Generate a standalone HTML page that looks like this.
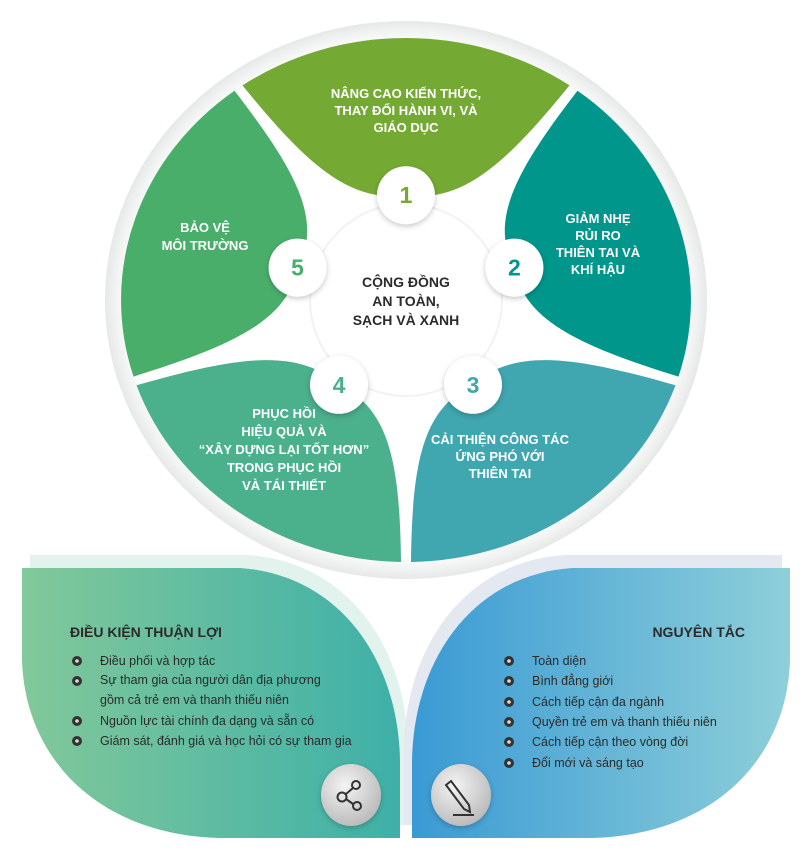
<!DOCTYPE html>
<html><head><meta charset="utf-8"><style>
html,body{margin:0;padding:0;background:#fff;width:812px;height:860px;overflow:hidden}
svg{display:block}
text{font-family:"Liberation Sans",sans-serif}
</style></head><body>
<svg id="s" width="812" height="860" viewBox="0 0 812 860" xmlns="http://www.w3.org/2000/svg">
<defs>
<radialGradient id="rim" cx="50%" cy="50%" r="50%">
<stop offset="92%" stop-color="#ffffff"/><stop offset="100%" stop-color="#e8eaea"/></radialGradient>
<linearGradient id="lg" x1="0" x2="1" y1="0" y2="0"><stop offset="0" stop-color="#82c89a"/><stop offset="1" stop-color="#3eb0a8"/></linearGradient>
<linearGradient id="rg" x1="0" x2="1" y1="0" y2="0"><stop offset="0" stop-color="#3a9ad4"/><stop offset="1" stop-color="#8ecfd9"/></linearGradient>
<radialGradient id="btn" cx="40%" cy="35%" r="70%"><stop offset="0" stop-color="#f4f4f4"/><stop offset="1" stop-color="#b8b8b8"/></radialGradient>
<filter id="sh" x="-30%" y="-30%" width="160%" height="160%"><feDropShadow dx="0" dy="2" stdDeviation="3" flood-color="#000" flood-opacity="0.22"/></filter>
</defs>
<ellipse cx="406" cy="300" rx="300" ry="278" fill="url(#rim)" stroke="#e8eaea" stroke-width="2"/>
<g id="petals"></g>
<circle cx="406" cy="300" r="96" fill="#fff" stroke="#f2f2f2" stroke-width="2"/>
<g id="bubbles"></g>

<g fill="#fff" font-weight="bold" font-size="13" text-anchor="middle">
<text x="406" y="98">NÂNG CAO KIẾN THỨC,</text>
<text x="406" y="115">THAY ĐỔI HÀNH VI, VÀ</text>
<text x="406" y="132">GIÁO DỤC</text>
<text x="598" y="223">GIẢM NHẸ</text>
<text x="598" y="240">RỦI RO</text>
<text x="598" y="257">THIÊN TAI VÀ</text>
<text x="598" y="274">KHÍ HẬU</text>
<text x="205" y="232">BẢO VỆ</text>
<text x="205" y="250">MÔI TRƯỜNG</text>
<text x="284" y="418">PHỤC HỒI</text>
<text x="284" y="436">HIỆU QUẢ VÀ</text>
<text x="284" y="454">“XÂY DỰNG LẠI TỐT HƠN”</text>
<text x="284" y="472">TRONG PHỤC HỒI</text>
<text x="284" y="490">VÀ TÁI THIẾT</text>
<text x="500" y="444">CẢI THIỆN CÔNG TÁC</text>
<text x="500" y="461">ỨNG PHÓ VỚI</text>
<text x="500" y="478">THIÊN TAI</text>
</g>
<g fill="#2b2b2b" font-weight="bold" font-size="14" text-anchor="middle">
<text x="406" y="287">CỘNG ĐỒNG</text>
<text x="406" y="306">AN TOÀN,</text>
<text x="406" y="325">SẠCH VÀ XANH</text>
</g>

<!-- bottom leaves -->
<path transform="translate(8,-13)" d="M22 568 L240 568 C340 575 398 660 400 760 L400 838 L220 838 C100 835 25 760 22 660 Z" fill="#e2f2ec"/>
<path transform="translate(-8,-13)" d="M790 568 L572 568 C472 575 414 660 412 760 L412 838 L592 838 C712 835 787 760 790 660 Z" fill="#e3e8f1"/>
<path d="M22 568 L240 568 C340 575 398 660 400 760 L400 838 L220 838 C100 835 25 760 22 660 Z" fill="url(#lg)"/>
<path d="M790 568 L572 568 C472 575 414 660 412 760 L412 838 L592 838 C712 835 787 760 790 660 Z" fill="url(#rg)"/>

<g font-size="12.5" fill="#2b2b2b">
<text x="70" y="637" font-size="14" font-weight="bold">ĐIỀU KIỆN THUẬN LỢI</text>
<text x="100" y="665">Điều phối và hợp tác</text>
<text x="100" y="684">Sự tham gia của người dân địa phương</text>
<text x="100" y="704">gồm cả trẻ em và thanh thiếu niên</text>
<text x="100" y="725">Nguồn lực tài chính đa dạng và sẵn có</text>
<text x="100" y="745">Giám sát, đánh giá và học hỏi có sự tham gia</text>
<text x="745" y="637" font-size="14" font-weight="bold" text-anchor="end">NGUYÊN TẮC</text>
<text x="532" y="665">Toàn diện</text>
<text x="532" y="685">Bình đẳng giới</text>
<text x="532" y="706">Cách tiếp cận đa ngành</text>
<text x="532" y="726">Quyền trẻ em và thanh thiếu niên</text>
<text x="532" y="746">Cách tiếp cận theo vòng đời</text>
<text x="532" y="767">Đổi mới và sáng tạo</text>
</g>
<g fill="#333" stroke="none">
<circle cx="77" cy="661" r="5"/><circle cx="77" cy="681" r="5"/><circle cx="77" cy="721" r="5"/><circle cx="77" cy="741" r="5"/>
<circle cx="509" cy="661" r="5"/><circle cx="509" cy="681" r="5"/><circle cx="509" cy="702" r="5"/><circle cx="509" cy="722" r="5"/><circle cx="509" cy="742" r="5"/><circle cx="509" cy="763" r="5"/>
</g>
<g fill="#ddd">
<circle cx="77" cy="661" r="1.8"/><circle cx="77" cy="681" r="1.8"/><circle cx="77" cy="721" r="1.8"/><circle cx="77" cy="741" r="1.8"/>
<circle cx="509" cy="661" r="1.8"/><circle cx="509" cy="681" r="1.8"/><circle cx="509" cy="702" r="1.8"/><circle cx="509" cy="722" r="1.8"/><circle cx="509" cy="742" r="1.8"/><circle cx="509" cy="763" r="1.8"/>
</g>
<ellipse cx="351" cy="795" rx="30" ry="31" fill="url(#btn)" filter="url(#sh)"/>
<ellipse cx="461" cy="795" rx="30" ry="31" fill="url(#btn)" filter="url(#sh)"/>
<g fill="none" stroke="#333" stroke-width="2">
<circle cx="342" cy="797" r="4.5"/><circle cx="356" cy="785" r="4"/><circle cx="357" cy="806" r="4"/>
<line x1="346" y1="794" x2="353" y2="788"/><line x1="346" y1="799" x2="353" y2="804"/>
<path d="M451 781 L469 805 L470 812 L464 809 L446 785 Z"/><line x1="453" y1="815" x2="474" y2="815"/>
</g>
</svg>
<script>
(function(){
var cx=406,cy=300,rx=285,ry=262,ns="http://www.w3.org/2000/svg";
function P(a,r){var t=a*Math.PI/180;return (cx+rx*r*Math.cos(t)).toFixed(1)+" "+(cy+ry*r*Math.sin(t)).toFixed(1);}
var petals=[[-90,"#74aa33"],[-18,"#00968c"],[54,"#40a6b0"],[126,"#4bb08c"],[198,"#4aae6b"]];
var g=document.getElementById("petals"),b=document.getElementById("bubbles");
petals.forEach(function(p,i){
 var m=p[0],a1=m-35,a2=m+35;
 var d="M"+P(a1,1)+" A"+rx+" "+ry+" 0 0 1 "+P(a2,1)+
 " C"+P(a2-1,0.62)+" "+P(m+28,0.42)+" "+P(m,0.40)+
 " C"+P(m-28,0.42)+" "+P(a1+1,0.62)+" "+P(a1,1)+" Z";
 var e=document.createElementNS(ns,"path");e.setAttribute("d",d);e.setAttribute("fill",p[1]);g.appendChild(e);
 var t=m*Math.PI/180,x=cx+rx*0.40*Math.cos(t),y=cy+ry*0.40*Math.sin(t);
 var c=document.createElementNS(ns,"circle");c.setAttribute("cx",x);c.setAttribute("cy",y);c.setAttribute("r",29);
 c.setAttribute("fill","#fff");c.setAttribute("filter","url(#sh)");b.appendChild(c);
 var tx=document.createElementNS(ns,"text");tx.setAttribute("x",x);tx.setAttribute("y",y+8);
 tx.setAttribute("text-anchor","middle");tx.setAttribute("font-size","23");tx.setAttribute("font-weight","bold");
 tx.setAttribute("fill",p[1]);tx.textContent=String(i+1);b.appendChild(tx);
});
})();
</script>
</body></html>
